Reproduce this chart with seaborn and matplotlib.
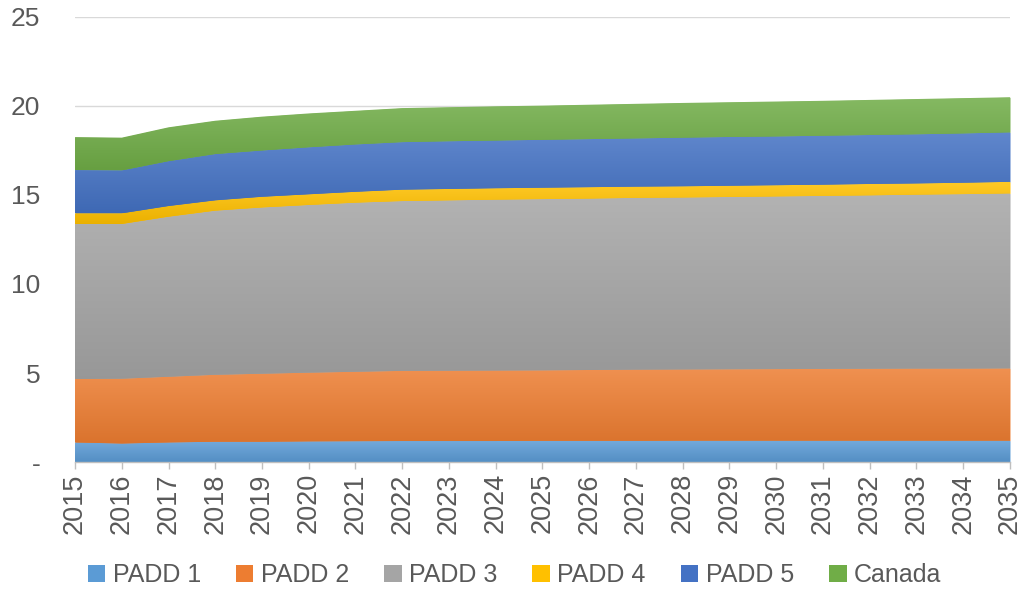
import numpy as np
import pandas as pd
import matplotlib
matplotlib.use("Agg")
import matplotlib.pyplot as plt
import matplotlib.colors as mcolors
from matplotlib.patches import Patch
import seaborn as sns

# --- DATOS ---
years = list(range(2015, 2036))
padd1 = [1.10, 1.04, 1.10, 1.14, 1.14, 1.16, 1.17, 1.18, 1.18, 1.18, 1.19,
         1.19, 1.19, 1.20, 1.20, 1.20, 1.20, 1.20, 1.20, 1.20, 1.20]
padd2 = [3.56, 3.64, 3.69, 3.76, 3.82, 3.86, 3.90, 3.94, 3.95, 3.96, 3.96,
         3.98, 4.00, 4.00, 4.01, 4.02, 4.03, 4.04, 4.05, 4.05, 4.06]
padd3 = [8.71, 8.69, 8.99, 9.22, 9.34, 9.42, 9.50, 9.54, 9.57, 9.60, 9.62,
         9.63, 9.65, 9.66, 9.68, 9.70, 9.72, 9.74, 9.77, 9.80, 9.83]
padd4 = [0.60, 0.60, 0.60, 0.58, 0.60, 0.60, 0.61, 0.64, 0.64, 0.64, 0.64,
         0.64, 0.63, 0.63, 0.63, 0.63, 0.63, 0.64, 0.63, 0.64, 0.65]
padd5 = [2.43, 2.41, 2.52, 2.60, 2.60, 2.64, 2.66, 2.67, 2.68, 2.68, 2.69,
         2.70, 2.71, 2.73, 2.74, 2.74, 2.75, 2.75, 2.76, 2.77, 2.78]
canada = [1.85, 1.84, 1.90, 1.87, 1.90, 1.90, 1.89, 1.91, 1.91, 1.92, 1.92,
          1.93, 1.94, 1.95, 1.95, 1.96, 1.96, 1.97, 1.98, 1.98, 1.97]

series_names = ["PADD 1", "PADD 2", "PADD 3", "PADD 4", "PADD 5", "Canada"]
colors = ["#5b9bd5", "#ed7d31", "#a5a5a5", "#ffc000", "#4472c4", "#70ad47"]

df = pd.DataFrame({"year": years, "PADD 1": padd1, "PADD 2": padd2,
                   "PADD 3": padd3, "PADD 4": padd4, "PADD 5": padd5,
                   "Canada": canada})

# --- ESTILO ---
sns.set_theme(style="whitegrid")
plt.rcParams['font.family'] = ['Liberation Sans', 'DejaVu Sans']
text_color = "#595959"

fig = plt.figure(figsize=(10.29, 5.95), dpi=100)
ax = fig.add_axes([0.0729, 0.2235, 0.9086, 0.748])

x = np.arange(len(years))
polys = ax.stackplot(x, *[df[n] for n in series_names], colors=colors,
                     linewidth=0)

# Degradado vertical dentro de cada banda (estilo Excel)
def shade(c, f):
    rgb = np.array(mcolors.to_rgb(c))
    if f > 0:
        return rgb + (1 - rgb) * f
    return rgb * (1 + f)

cum = np.cumsum(df[series_names].values, axis=1)
for i, (poly, c) in enumerate(zip(polys, colors)):
    lo = cum[:, i - 1].min() if i > 0 else 0
    hi = cum[:, i].max()
    top = shade(c, 0.15)
    bot = shade(c, -0.08)
    t = np.linspace(0, 1, 64)[:, None]
    grad = (bot[None, :] * (1 - t) + top[None, :] * t)[:, None, :]
    grad = np.repeat(grad, 2, axis=1)
    im = ax.imshow(grad, extent=[x[0], x[-1], lo, hi], origin="lower",
                   aspect="auto", zorder=2, interpolation="bilinear")
    im.set_clip_path(poly.get_paths()[0], transform=ax.transData)

ax.set_xlim(x[0], x[-1])
ax.set_ylim(0, 25)
ax.set_yticks([0, 5, 10, 15, 20, 25])
ax.set_yticklabels(["-", "5", "10", "15", "20", "25"])
ax.set_xticks(x)
ax.set_xticklabels([str(y) for y in years], rotation=90)

ax.grid(axis="y", color="#d9d9d9", linewidth=1)
ax.grid(axis="x", visible=False)
ax.set_axisbelow(True)
for s in ["top", "right", "left"]:
    ax.spines[s].set_visible(False)
ax.spines["bottom"].set_color("#bfbfbf")
ax.spines["bottom"].set_linewidth(1)
ax.spines["bottom"].set_zorder(5)

ax.tick_params(axis="y", length=0, pad=25, labelsize=19, labelcolor=text_color)
ax.tick_params(axis="x", length=5, width=1, color="#bfbfbf", bottom=True,
               pad=3, labelsize=19.5, labelcolor=text_color)

handles = [Patch(facecolor=c, edgecolor="none") for c in colors]
fig.legend(handles, series_names, loc="lower center", ncol=6, frameon=False,
           fontsize=18, labelcolor=text_color, bbox_to_anchor=(0.5, -0.025),
           handlelength=0.7, handleheight=0.7, handletextpad=0.3,
           columnspacing=1.4)

fig.savefig("out.png", dpi=100)
